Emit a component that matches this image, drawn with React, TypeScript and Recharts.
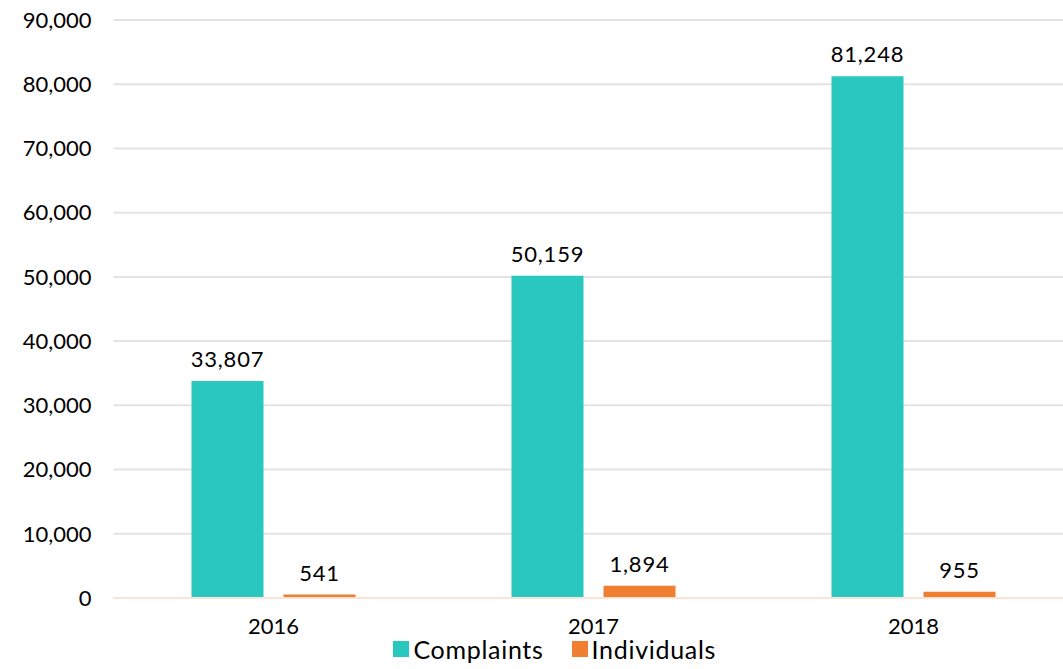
import { BarChart, Bar, XAxis, YAxis, CartesianGrid, Legend, LabelList } from 'recharts'

const years = ['2016', '2017', '2018']
const complaints = [33807, 50159, 81248]
const individuals = [541, 1894, 955]
const yTicks = [0, 10000, 20000, 30000, 40000, 50000, 60000, 70000, 80000, 90000]

const TEAL = '#29C7BE'
const ORANGE = '#F07F32'
const FONT = 'Lato, sans-serif'

const data = years.map((year, i) => ({
  year,
  Complaints: complaints[i],
  Individuals: individuals[i],
}))

const fmt = (v: unknown) => Number(v).toLocaleString('en-US')

function LegendContent() {
  const items = [
    { name: 'Complaints', color: TEAL },
    { name: 'Individuals', color: ORANGE },
  ]
  return (
    <div
      style={{
        display: 'flex',
        justifyContent: 'center',
        gap: 28,
        fontFamily: FONT,
        fontSize: 25,
        lineHeight: '22px',
        letterSpacing: 0.7,
        paddingLeft: 36,
      }}
    >
      {items.map((it) => (
        <div key={it.name} style={{ display: 'flex', alignItems: 'center', color: '#000' }}>
          <span style={{ width: 16, height: 16, background: it.color, display: 'inline-block', marginRight: 4 }} />
          {it.name}
        </div>
      ))}
    </div>
  )
}

export default function App() {
  return (
    <div style={{ position: 'absolute', left: 0, top: 0, width: 1063, height: 669, overflow: 'hidden', background: '#fff' }}>
      <BarChart
        width={1080}
        height={669}
        data={data}
        margin={{ top: 20, right: 6.5, left: 0, bottom: 0 }}
        barSize={72}
        barGap={20}
      >
        <CartesianGrid vertical={false} stroke="#e3e3e3" strokeWidth={2} />
        <XAxis
          dataKey="year"
          height={42}
          tickLine={false}
          axisLine={{ stroke: '#fbe3d6', strokeWidth: 2 }}
          tick={{ fontFamily: FONT, fontSize: 22, fill: '#000', dy: 12 }}
        />
        <YAxis
          width={113.5}
          domain={[0, 90000]}
          ticks={yTicks}
          interval={0}
          tickFormatter={fmt}
          axisLine={false}
          tickLine={false}
          tick={{ fontFamily: FONT, fontSize: 22, fill: '#000', dx: -14 }}
        />
        <Legend verticalAlign="bottom" height={29} wrapperStyle={{ bottom: 2 }} content={<LegendContent />} />
        <Bar dataKey="Complaints" fill={TEAL} isAnimationActive={false}>
          <LabelList dataKey="Complaints" position="top" offset={14} formatter={fmt} style={{ fontFamily: FONT, fontSize: 22, fill: '#000', letterSpacing: 0.8 }} />
        </Bar>
        <Bar dataKey="Individuals" fill={ORANGE} isAnimationActive={false}>
          <LabelList dataKey="Individuals" position="top" offset={14} formatter={fmt} style={{ fontFamily: FONT, fontSize: 22, fill: '#000', letterSpacing: 0.8 }} />
        </Bar>
      </BarChart>
    </div>
  )
}
